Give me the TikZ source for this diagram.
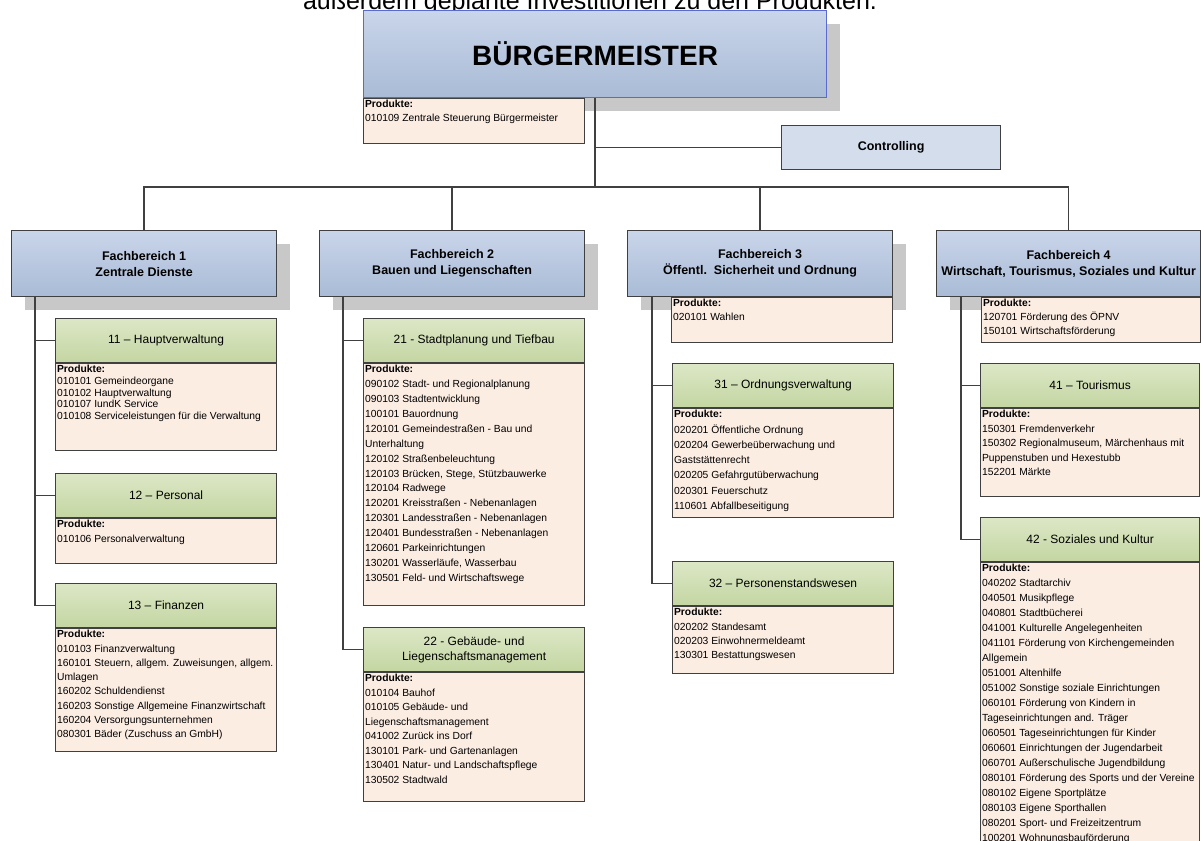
\documentclass[tikz,border=0pt]{standalone}
\usepackage{fontspec}
\setmainfont{Liberation Sans}
\usetikzlibrary{positioning,shadows}
\definecolor{linegray}{HTML}{404040}
\definecolor{bluetop}{HTML}{C9D5EA}
\definecolor{bluebot}{HTML}{A9BBD6}
\definecolor{ctrlblue}{HTML}{D3DDEB}
\definecolor{greentop}{HTML}{DCE7C6}
\definecolor{greenbot}{HTML}{C4D6A2}
\definecolor{peach}{HTML}{FCEDE3}
\definecolor{shade}{HTML}{C8C8C8}
\definecolor{bmframe}{HTML}{5A6AD2}
\newcommand{\plist}[3]{\parbox[t][#1pt][t]{#2pt}{\raggedright\textbf{Produkte:}\\#3}}

\begin{document}
\begin{tikzpicture}[x=1pt,y=-1pt,
    conn/.style={draw=linegray,line width=1.3pt},
    title node/.style={anchor=base,inner sep=0pt,font=\fontsize{25}{30}\selectfont},
    bm node/.style={draw=bmframe,line width=1.2pt,top color=bluetop,bottom color=bluebot,
      drop shadow={shadow xshift=13pt,shadow yshift=-13pt,fill=shade,opacity=1},
      minimum width=463pt,minimum height=87pt,inner sep=0pt,anchor=north west,
      font=\bfseries\fontsize{28}{32}\selectfont},
    ctrl node/.style={draw=linegray,line width=1.2pt,fill=ctrlblue,
      minimum width=219pt,minimum height=44pt,inner sep=0pt,anchor=north west,
      font=\bfseries\fontsize{12.5}{15}\selectfont},
    fb node/.style={draw=linegray,line width=1.2pt,top color=bluetop,bottom color=bluebot,
      drop shadow={shadow xshift=13pt,shadow yshift=-13pt,fill=shade,opacity=1},
      minimum width=#1,minimum height=66pt,inner sep=0pt,anchor=north west,align=center,
      font=\bfseries\fontsize{12.5}{16}\selectfont},
    fb node/.default=265pt,
    head node/.style={draw=linegray,line width=1.2pt,top color=greentop,bottom color=greenbot,
      minimum width=#1,minimum height=44pt,inner sep=0pt,anchor=north west,align=center,
      font=\fontsize{12}{15}\selectfont},
    head node/.default=221pt,
    prod node/.style={draw=linegray,line width=1.2pt,fill=peach,inner sep=1.5pt,
      anchor=north,font=\fontsize{10.3}{#1}\selectfont}]

  \fill[white] (0,0) rectangle (1201,840);
  \useasboundingbox (0,0) rectangle (1201,840);

  \node[title node] (titel) at (590,10) {außerdem geplante Investitionen zu den Produkten.};

  % Spitze
  \node[bm node] (bm) at (363,10) {BÜRGERMEISTER};
  \node[prod node=14,below right=0pt and 0pt of bm.south west] (pbm)
    {\plist{42}{218}{010109 Zentrale Steuerung Bürgermeister}};
  \node[ctrl node] (ctrl) at (781,125) {Controlling};

  % Fachbereiche
  \node[fb node] (fb1) at (11,230) {Fachbereich 1\\Zentrale Dienste};
  \node[fb node] (fb2) at (319,230) {Fachbereich 2\\Bauen und Liegenschaften};
  \node[fb node] (fb3) at (627,230) {Fachbereich 3\\Öffentl.~~Sicherheit und Ordnung};
  \node[fb node=264pt] (fb4) at (936,230) {Fachbereich 4\\Wirtschaft, Tourismus, Soziales und Kultur};

  % Fachbereich 1
  \node[head node] (h11) at (55,318) {11 – Hauptverwaltung};
  \node[prod node=11.7,below=0pt of h11] (p11) {\plist{84}{218}{010101 Gemeindeorgane\\
    010102 Hauptverwaltung\\010107 IundK Service\\010108 Serviceleistungen für die Verwaltung}};
  \node[head node] (h12) at (55,473) {12 – Personal};
  \node[prod node=15,below=0pt of h12] (p12) {\plist{42}{218}{010106 Personalverwaltung}};
  \node[head node] (h13) at (55,583) {13 – Finanzen};
  \node[prod node=14.3,below=0pt of h13] (p13) {\plist{120}{218}{010103 Finanzverwaltung\\
    160101 Steuern, allgem. Zuweisungen, allgem.\\Umlagen\\160202 Schuldendienst\\
    160203 Sonstige Allgemeine Finanzwirtschaft\\160204 Versorgungsunternehmen\\
    080301 Bäder (Zuschuss an GmbH)}};

  % Fachbereich 2
  \node[head node] (h21) at (363,318) {21 - Stadtplanung und Tiefbau};
  \node[prod node=14.9,below=0pt of h21] (p21) {\plist{239}{218}{090102 Stadt- und Regionalplanung\\
    090103 Stadtentwicklung\\100101 Bauordnung\\120101 Gemeindestraßen - Bau und\\Unterhaltung\\
    120102 Straßenbeleuchtung\\120103 Brücken, Stege, Stützbauwerke\\120104 Radwege\\
    120201 Kreisstraßen - Nebenanlagen\\120301 Landesstraßen - Nebenanlagen\\
    120401 Bundesstraßen - Nebenanlagen\\120601 Parkeinrichtungen\\
    130201 Wasserläufe, Wasserbau\\130501 Feld- und Wirtschaftswege}};
  \node[head node] (h22) at (363,627) {22 - Gebäude- und\\Liegenschaftsmanagement};
  \node[prod node=14.5,below=0pt of h22] (p22) {\plist{126}{218}{010104 Bauhof\\
    010105 Gebäude- und\\Liegenschaftsmanagement\\041002 Zurück ins Dorf\\
    130101 Park- und Gartenanlagen\\130401 Natur- und Landschaftspflege\\130502 Stadtwald}};

  % Fachbereich 3
  \node[prod node=14,below left=0pt and 0pt of fb3.south east] (pfb3) {\plist{42}{218}{020101 Wahlen}};
  \node[head node] (h31) at (672,363) {31 – Ordnungsverwaltung};
  \node[prod node=15.3,below=0pt of h31] (p31) {\plist{106}{218}{020201 Öffentliche Ordnung\\
    020204 Gewerbeüberwachung und\\Gaststättenrecht\\020205 Gefahrgutüberwachung\\
    020301 Feuerschutz\\110601 Abfallbeseitigung}};
  \node[head node] (h32) at (672,561) {32 – Personenstandswesen};
  \node[prod node=14.3,below=0pt of h32] (p32) {\plist{64}{218}{020202 Standesamt\\
    020203 Einwohnermeldeamt\\130301 Bestattungswesen}};

  % Fachbereich 4
  \node[prod node=14,below left=0pt and 0pt of fb4.south east] (pfb4) {\plist{42}{216}{120701 Förderung des ÖPNV\\
    150101 Wirtschaftsförderung}};
  \node[head node=219pt] (h41) at (980,363) {41 – Tourismus};
  \node[prod node=14.5,below=0pt of h41] (p41) {\plist{85}{216}{150301 Fremdenverkehr\\
    150302 Regionalmuseum, Märchenhaus mit\\Puppenstuben und Hexestubb\\152201 Märkte}};
  \node[head node=219pt] (h42) at (980,517) {42 - Soziales und Kultur};
  \node[prod node=15,below=0pt of h42] (p42) {\plist{316}{216}{040202 Stadtarchiv\\
    040501 Musikpflege\\040801 Stadtbücherei\\041001 Kulturelle Angelegenheiten\\
    041101 Förderung von Kirchengemeinden\\Allgemein\\051001 Altenhilfe\\
    051002 Sonstige soziale Einrichtungen\\060101 Förderung von Kindern in\\
    Tageseinrichtungen and. Träger\\060501 Tageseinrichtungen für Kinder\\
    060601 Einrichtungen der Jugendarbeit\\060701 Außerschulische Jugendbildung\\
    080101 Förderung des Sports und der Vereine\\080102 Eigene Sportplätze\\
    080103 Eigene Sporthallen\\080201 Sport- und Freizeitzentrum\\
    100201 Wohnungsbauförderung}};

  % Verbindungen
  \coordinate (bus) at (595,187);
  \coordinate (s1) at (35,296);
  \coordinate (s2) at (343,296);
  \coordinate (s3) at (652,296);
  \coordinate (s4) at (961,296);
  \draw[conn] (bm.south) -- (bm.south |- bus);
  \draw[conn] (ctrl.west) -- (ctrl.west -| bm.south);
  \draw[conn] (fb1.north) |- (bus) -| (fb4.north);
  \draw[conn] (bus) -| (fb2.north);
  \draw[conn] (bus) -| (fb3.north);
  \draw[conn] (s1) |- (h11.west) (s1) |- (h12.west) (s1) |- (h13.west);
  \draw[conn] (s2) |- (h21.west) (s2) |- (h22.west);
  \draw[conn] (s3) |- (h31.west) (s3) |- (h32.west);
  \draw[conn] (s4) |- (h41.west) (s4) |- (h42.west);
\end{tikzpicture}
\end{document}
